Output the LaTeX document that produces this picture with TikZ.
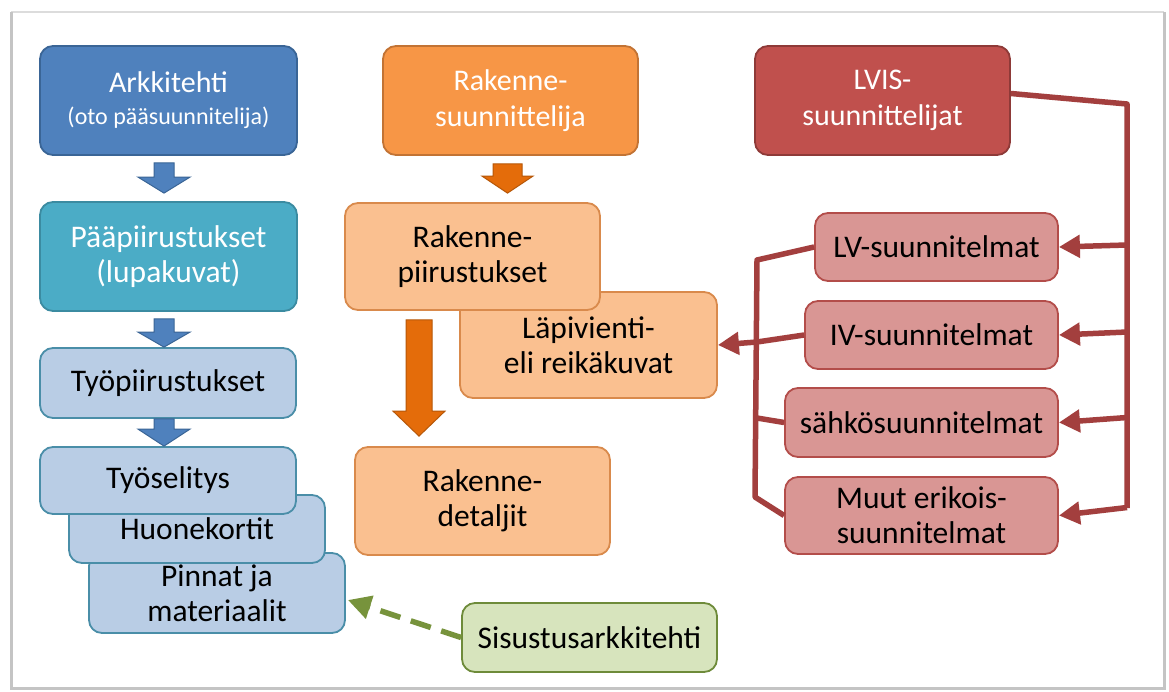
\documentclass[tikz,border=0pt]{standalone}
\usepackage{fontspec}
\setmainfont{Carlito}
\usetikzlibrary{arrows.meta,calc}

\definecolor{archblue}{HTML}{4F81BD}
\definecolor{archblueline}{HTML}{3A6596}
\definecolor{mainteal}{HTML}{4BACC6}
\definecolor{maintealline}{HTML}{3B8BA1}
\definecolor{workfill}{HTML}{B9CDE5}
\definecolor{workline}{HTML}{4A8EA8}
\definecolor{structorange}{HTML}{F79646}
\definecolor{structoline}{HTML}{C27334}
\definecolor{structlight}{HTML}{FAC090}
\definecolor{structlightline}{HTML}{D98A4C}
\definecolor{arroworange}{HTML}{E46C0A}
\definecolor{arroworangeline}{HTML}{B65708}
\definecolor{hvacred}{HTML}{C0504D}
\definecolor{hvacredline}{HTML}{8E3A38}
\definecolor{hvacpink}{HTML}{D99694}
\definecolor{hvacpinkline}{HTML}{B34D4A}
\definecolor{linkred}{HTML}{A33F3E}
\definecolor{interiorfill}{HTML}{D7E4BD}
\definecolor{interiorline}{HTML}{6E8B3A}
\definecolor{linkgreen}{HTML}{77933C}
\definecolor{framegray}{HTML}{C4C4C4}

% downward block arrow: #1 style, #2 top point, #3 tip point,
% #4 shaft half width, #5 head half width, #6 head length
\newcommand\blockdown[6]{%
  \filldraw[#1] let \p1=#2, \p2=#3 in
    (\x1-#4pt,\y1) -- (\x1+#4pt,\y1) -- (\x1+#4pt,\y2+#6pt) --
    (\x1+#5pt,\y2+#6pt) -- (\x1,\y2) -- (\x1-#5pt,\y2+#6pt) --
    (\x1-#4pt,\y2+#6pt) -- cycle;}

\begin{document}
\begin{tikzpicture}[x=1pt,y=-1pt,
  card/.style={rectangle, rounded corners=13pt, line width=1.8pt,
    align=center, inner sep=0pt, font=\fontsize{31.5}{35}\selectfont},
  headcard/.style={card, text=white, font=\fontsize{30}{36}\selectfont},
  archcard/.style={headcard, fill=archblue, draw=archblueline},
  maincard/.style={card, fill=mainteal, draw=maintealline, text=white},
  workcard/.style={card, fill=workfill, draw=workline, text=black},
  structcard/.style={headcard, fill=structorange, draw=structoline},
  structsub/.style={card, fill=structlight, draw=structlightline, text=black},
  hvaccard/.style={headcard, fill=hvacred, draw=hvacredline},
  hvacsub/.style={card, fill=hvacpink, draw=hvacpinkline, text=black},
  interiorcard/.style={card, fill=interiorfill, draw=interiorline, text=black},
  bluearrow/.style={fill=archblue, draw=archblueline, line width=1pt},
  orangearrow/.style={fill=arroworange, draw=arroworangeline, line width=1pt},
  redlink/.style={draw=linkred, line width=5.5pt, line join=round},
  redtip/.style={-{Triangle[length=21pt,width=22pt]}},
  greenlink/.style={draw=linkgreen, line width=5.5pt, dash pattern=on 21pt off 11pt,
    -{Triangle[length=23pt,width=23pt]}}
]
% page and framed panel
\fill[white] (0,0) rectangle (1169,691);
\useasboundingbox (0,0) rectangle (1169,691);
\draw[framegray!60, line width=1.5pt] (11,12) -- (1164,12);
\draw[framegray, line width=3pt] (11,12) -- (11,688) -- (1164,688) -- (1164,12);

% architect column
\node[archcard, minimum width=257, minimum height=109] (ark) at (168.5,100.5)
  {Arkkitehti\\[-4pt]{\fontsize{24}{27}\selectfont (oto pääsuunnitelija)}};
\node[maincard, minimum width=257, minimum height=109] (main) at (168.5,256.5)
  {Pääpiirustukset\\(lupakuvat)};
\node[workcard, minimum width=256, minimum height=70] (work) at (168,383)
  {Työpiirustukset};
\node[workcard, minimum width=256, minimum height=80] (pin) at (217,593)
  {Pinnat ja\\materiaalit};
\node[workcard, minimum width=256, minimum height=68] (room) at (197,529)
  {\raisebox{-3pt}{Huonekortit}};
\node[workcard, minimum width=256, minimum height=67] (spec) at (168,480.5)
  {Työselitys};

\blockdown{bluearrow}{($(ark.south)+(-4.5,7)$)}{($(main.north)+(-4.5,-8)$)}{10}{26}{16}
\blockdown{bluearrow}{($(main.south)+(-4.5,7)$)}{($(work.north)+(-4.5,0)$)}{10}{26}{15}
\blockdown{bluearrow}{($(work.south)+(-4,0)$)}{($(spec.north)+(-4,0)$)}{10}{26}{17}

% structural column
\node[structcard, minimum width=255, minimum height=109] (struct) at (510.5,100.5)
  {Rakenne-\\suunnittelija};
\node[structsub, minimum width=257, minimum height=106] (lapi) at (588.5,345)
  {Läpivienti-\\eli reikäkuvat};
\node[structsub, minimum width=255, minimum height=107] (rp) at (472.5,256.5)
  {Rakenne-\\piirustukset};
\node[structsub, minimum width=255, minimum height=108] (det) at (482.5,501)
  {Rakenne-\\detaljit};

\blockdown{orangearrow}{($(struct.south)+(-3,8)$)}{($(rp.north)+(35,-9)$)}{14.5}{25.5}{17}
\blockdown{orangearrow}{($(rp.south)+(-53.5,9)$)}{($(det.north)+(-63.5,-10)$)}{13}{26}{25}

% interior architect
\node[interiorcard, minimum width=255, minimum height=69] (sis) at (589.5,637.5)
  {Sisustusarkkitehti};
\draw[greenlink] (sis.west) -- ($(pin.east)+(2,7)$);

% HVAC and electrical column
\node[hvaccard, minimum width=255, minimum height=109] (lvis) at (882.5,100.5)
  {LVIS-\\suunnittelijat};
\node[hvacsub, minimum width=243, minimum height=68] (lv) at (936.5,247)
  {LV-suunnitelmat};
\node[hvacsub, minimum width=253, minimum height=68] (iv) at (931.5,335)
  {IV-suunnitelmat};
\node[hvacsub, minimum width=273, minimum height=69] (sahko) at (921.5,422.5)
  {sähkösuunnitelmat};
\node[hvacsub, minimum width=273, minimum height=77] (muut) at (921.5,515.5)
  {Muut erikois-\\suunnitelmat};

% distribution spine on the right
\coordinate (spinetop) at (1127,104);
\coordinate (spinebot) at (1127,508);
\draw[redlink] ($(lvis.east)+(0,-7)$) -- (spinetop) -- (spinebot);
\coordinate (tap1) at ($(spinetop |- lv.east)+(0,-2)$);
\coordinate (tap2) at ($(spinetop |- iv.east)+(0,-3)$);
\coordinate (tap3) at ($(spinetop |- sahko.east)+(0,-5)$);
\coordinate (tap4) at ($(spinetop |- muut.east)+(0,-8)$);
\draw[redlink, redtip] (tap1) -- (lv.east);
\draw[redlink, redtip] (tap2) -- (iv.east);
\draw[redlink, redtip] (tap3) -- (sahko.east);
\draw[redlink, redtip] (tap4) -- (muut.east);

% collecting bracket on the left
\coordinate (bracktop) at (757,260);
\coordinate (brackbot) at (755,497);
\coordinate (brackiv) at (757,342);
\coordinate (bracksahko) at (757,418);
\draw[redlink] (lv.west) -- (bracktop) -- (brackbot) -- (muut.west);
\draw[redlink] (sahko.west) -- (bracksahko);
\draw[redlink, redtip] (iv.west) -- (brackiv) -- (lapi.east);
\end{tikzpicture}
\end{document}
